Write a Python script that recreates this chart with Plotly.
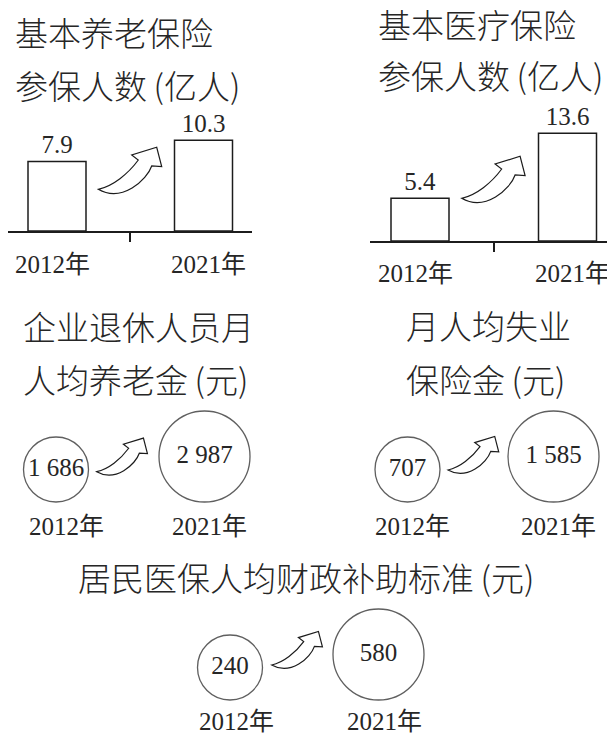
import plotly.graph_objects as go

# ---------------- data ----------------
years = ["2012年", "2021年"]

pension_title = ["基本养老保险", "参保人数\u2009(亿人)"]
pension_insured = [7.9, 10.3]          # 亿人

medical_title = ["基本医疗保险", "参保人数\u2009(亿人)"]
medical_insured = [5.4, 13.6]          # 亿人

retiree_title = ["企业退休人员月", "人均养老金\u2009(元)"]
retiree_pension = [1686, 2987]         # 元

unemp_title = ["月人均失业", "保险金\u2009(元)"]
unemp_benefit = [707, 1585]            # 元

subsidy_title = ["居民医保人均财政补助标准\u2009(元)"]
subsidy_std = [240, 580]               # 元

# ---------------- layout helpers ----------------
OFF = 8                      # page body margin of the written html
W, H = 615 - OFF, 735 - OFF
INK = "#1c1c1c"
TXT = "#262626"
NUM_FONT = "Liberation Serif, Noto Sans CJK SC, serif"
CJK_FONT = "Noto Sans CJK SC, sans-serif"
TITLE_SIZE = 33
NUM_SIZE = 25


def fx(px):
    return (px - OFF) / W


def fy(py):
    return 1 - (py - OFF) / H


def xrange_for(d0, d1, c0, c1):
    u = c1 - c0
    return [(d0 - c0) / u, 1 + (d1 - c1) / u], u


def fmt_num(v):
    return f"{v:,}".replace(",", " ")


fig = go.Figure()
annotations = []
shapes = []


def add_titles(lines, tx, tys):
    for line, ty in zip(lines, tys):
        annotations.append(dict(text=line, xref="paper", yref="paper", x=fx(tx), y=fy(ty),
                                xanchor="left", yanchor="middle", showarrow=False,
                                font=dict(family=CJK_FONT, size=TITLE_SIZE, color=TXT, weight=300)))


def add_years(xs, centers, label_centers, ly):
    for i, (yr, lc) in enumerate(zip(years, label_centers)):
        annotations.append(dict(text=yr, xref="x" + xs, yref="paper", x=i, y=fy(ly),
                                xshift=lc - centers[i], xanchor="center", yanchor="middle",
                                showarrow=False, font=dict(family=NUM_FONT, size=NUM_SIZE, color=TXT)))


# ---------------- bar panels ----------------
bar_panels = [
    dict(n=1, vals=pension_insured, title=pension_title, dom=(8, 252), c=(57, 203.5),
         base=231, ppu=8.8, ymax=12, tx=13, tys=(32, 85), ly=264, lc=(52.5, 208.5), bw=58),
    dict(n=2, vals=medical_insured, title=medical_title, dom=(370, 615), c=(420, 567.5),
         base=241, ppu=7.93, ymax=15, tx=376, tys=(24, 75.5), ly=273, lc=(415.5, 572), bw=58),
]

for p in bar_panels:
    n = p["n"]
    xs = "" if n == 1 else str(n)
    rng, unit = xrange_for(p["dom"][0], p["dom"][1], p["c"][0], p["c"][1])
    fig.add_trace(go.Bar(
        x=[0, 1], y=p["vals"], width=p["bw"] / unit,
        marker=dict(color="white", line=dict(color=INK, width=1.5)),
        text=[str(v) for v in p["vals"]], textposition="outside",
        textfont=dict(family=NUM_FONT, size=NUM_SIZE, color=TXT),
        cliponaxis=False, xaxis="x" + xs, yaxis="y" + xs, showlegend=False,
        hoverinfo="skip",
    ))
    top = p["base"] - p["ymax"] * p["ppu"]
    fig.update_layout(**{
        "xaxis" + xs: dict(domain=[fx(p["dom"][0]), fx(p["dom"][1])], range=rng,
                           anchor="y" + xs, showline=True, linecolor=INK, linewidth=1.5,
                           tickvals=[0.5], ticks="outside", ticklen=9, tickwidth=1.5,
                           tickcolor=INK, showticklabels=False, showgrid=False,
                           zeroline=False, fixedrange=True),
        "yaxis" + xs: dict(domain=[fy(p["base"]), fy(top)], range=[0, p["ymax"]],
                           anchor="x" + xs, visible=False, fixedrange=True),
    })
    add_titles(p["title"], p["tx"], p["tys"])
    add_years("" if n == 1 else xs, p["c"], p["lc"], p["ly"])

# ---------------- circle panels ----------------
D_SMALL, D_BIG = 65, 91
circle_panels = [
    dict(n=3, vals=retiree_pension, title=retiree_title, dom=(8, 300), c=(56, 204.5),
         bottom=502, tx=21, tys=(325.5, 379), ly=526, lc=(66, 209)),
    dict(n=4, vals=unemp_benefit, title=unemp_title, dom=(305, 615), c=(407.5, 553.5),
         bottom=502, tx=404, tys=(325, 379), ly=526, lc=(412.5, 558.5)),
    dict(n=5, vals=subsidy_std, title=subsidy_title, dom=(150, 460), c=(230, 378.5),
         bottom=700, tx=76, tys=(577,), ly=721, lc=(236, 384.5)),
]

for p in circle_panels:
    xs = str(p["n"])
    rng, unit = xrange_for(p["dom"][0], p["dom"][1], p["c"][0], p["c"][1])
    span = 120
    sizes = [D_SMALL, D_BIG]
    fig.add_trace(go.Scatter(
        x=[0, 1], y=[d / 2 for d in sizes], mode="markers+text",
        marker=dict(size=sizes, color="white", line=dict(color=INK, width=1.3)),
        text=[fmt_num(v) for v in p["vals"]], textposition="middle center",
        textfont=dict(family=NUM_FONT, size=NUM_SIZE, color=TXT),
        cliponaxis=False, xaxis="x" + xs, yaxis="y" + xs, showlegend=False,
        hoverinfo="skip",
    ))
    fig.update_layout(**{
        "xaxis" + xs: dict(domain=[fx(p["dom"][0]), fx(p["dom"][1])], range=rng,
                           anchor="y" + xs, visible=False, fixedrange=True),
        "yaxis" + xs: dict(domain=[fy(p["bottom"]), fy(p["bottom"] - span)], range=[0, span],
                           anchor="x" + xs, visible=False, fixedrange=True),
    })
    add_titles(p["title"], p["tx"], p["tys"])
    add_years(xs, p["c"], p["lc"], p["ly"])

# ---------------- curved hollow arrows (decoration) ----------------
ARROW = [
    ("M", [(0, 0)]),
    ("C", [(14.7, -3.3), (29.7, -15.3), (40, -29.3)]),
    ("L", [(33.4, -34.3)]),
    ("L", [(58.4, -42)]),
    ("L", [(63.4, -22.6)]),
    ("L", [(53.4, -23.3)]),
    ("C", [(48.7, -9.3), (23.7, 13.7), (0, 0)]),
]


def arrow_path(tx, ty, s):
    parts = []
    for cmd, pts in ARROW:
        coords = " ".join(f"{fx(tx + s * a):.5f},{fy(ty + s * b):.5f}" for a, b in pts)
        parts.append(f"{cmd} {coords}")
    return " ".join(parts) + " Z"


for tx, ty, s in [(98.3, 189.3, 1.0), (461.7, 198.3, 1.0), (96.7, 471.7, 0.8),
                  (448, 470, 0.8), (271.7, 665, 0.8)]:
    shapes.append(dict(type="path", xref="paper", yref="paper", path=arrow_path(tx, ty, s),
                       fillcolor="white", line=dict(color=INK, width=1.2), layer="above"))

fig.update_layout(
    width=W, height=H, margin=dict(l=0, r=0, t=0, b=0),
    paper_bgcolor="white", plot_bgcolor="rgba(0,0,0,0)",
    annotations=annotations, shapes=shapes, showlegend=False,
)

fig.write_html("out.html")
